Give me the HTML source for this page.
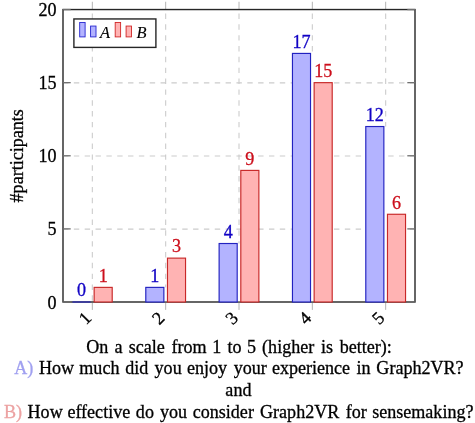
<!DOCTYPE html><html><head><meta charset="utf-8"><style>html,body{margin:0;padding:0;background:#fff;}svg{display:block;will-change:transform;}text{font-family:"Liberation Serif",serif;}</style></head><body>
<svg width="475" height="423" viewBox="0 0 475 423">
<line x1="63.0" y1="229.09" x2="415.0" y2="229.09" stroke="#cccccc" stroke-width="1.1" fill="none" stroke-dasharray="5.42 5.42"/>
<line x1="63.0" y1="155.97" x2="415.0" y2="155.97" stroke="#cccccc" stroke-width="1.1" fill="none" stroke-dasharray="5.42 5.42"/>
<line x1="63.0" y1="82.86" x2="415.0" y2="82.86" stroke="#cccccc" stroke-width="1.1" fill="none" stroke-dasharray="5.42 5.42"/>
<line x1="92.33" y1="9.55" x2="92.33" y2="302.00" stroke="#cccccc" stroke-width="1.1" fill="none" stroke-dasharray="5.42 5.42" stroke-dashoffset="6.89"/>
<line x1="92.33" y1="1.75" x2="92.33" y2="9.55" stroke="#b4b4b4" stroke-width="1.0"/>
<line x1="92.33" y1="302.80" x2="92.33" y2="309.90" stroke="#b4b4b4" stroke-width="1.0"/>
<line x1="165.67" y1="9.55" x2="165.67" y2="302.00" stroke="#cccccc" stroke-width="1.1" fill="none" stroke-dasharray="5.42 5.42" stroke-dashoffset="6.89"/>
<line x1="165.67" y1="1.75" x2="165.67" y2="9.55" stroke="#b4b4b4" stroke-width="1.0"/>
<line x1="165.67" y1="302.80" x2="165.67" y2="309.90" stroke="#b4b4b4" stroke-width="1.0"/>
<line x1="239.00" y1="9.55" x2="239.00" y2="302.00" stroke="#cccccc" stroke-width="1.1" fill="none" stroke-dasharray="5.42 5.42" stroke-dashoffset="6.89"/>
<line x1="239.00" y1="1.75" x2="239.00" y2="9.55" stroke="#b4b4b4" stroke-width="1.0"/>
<line x1="239.00" y1="302.80" x2="239.00" y2="309.90" stroke="#b4b4b4" stroke-width="1.0"/>
<line x1="312.33" y1="9.55" x2="312.33" y2="302.00" stroke="#cccccc" stroke-width="1.1" fill="none" stroke-dasharray="5.42 5.42" stroke-dashoffset="6.89"/>
<line x1="312.33" y1="1.75" x2="312.33" y2="9.55" stroke="#b4b4b4" stroke-width="1.0"/>
<line x1="312.33" y1="302.80" x2="312.33" y2="309.90" stroke="#b4b4b4" stroke-width="1.0"/>
<line x1="385.67" y1="9.55" x2="385.67" y2="302.00" stroke="#cccccc" stroke-width="1.1" fill="none" stroke-dasharray="5.42 5.42" stroke-dashoffset="6.89"/>
<line x1="385.67" y1="1.75" x2="385.67" y2="9.55" stroke="#b4b4b4" stroke-width="1.0"/>
<line x1="385.67" y1="302.80" x2="385.67" y2="309.90" stroke="#b4b4b4" stroke-width="1.0"/>
<rect x="63.0" y="9.55" width="352.0" height="292.45" fill="none" stroke="#262626" stroke-width="1.4"/>
<line x1="63.0" y1="302.00" x2="70.70" y2="302.00" stroke="#707070" stroke-width="1.3"/>
<line x1="407.30" y1="302.00" x2="415.0" y2="302.00" stroke="#707070" stroke-width="1.3"/>
<text x="56.6" y="308.50" font-size="18.07" text-anchor="end" fill="#000" stroke="#000" stroke-width="0.3">0</text>
<line x1="63.0" y1="228.89" x2="70.70" y2="228.89" stroke="#707070" stroke-width="1.3"/>
<line x1="407.30" y1="228.89" x2="415.0" y2="228.89" stroke="#707070" stroke-width="1.3"/>
<text x="56.6" y="235.39" font-size="18.07" text-anchor="end" fill="#000" stroke="#000" stroke-width="0.3">5</text>
<line x1="63.0" y1="155.78" x2="70.70" y2="155.78" stroke="#707070" stroke-width="1.3"/>
<line x1="407.30" y1="155.78" x2="415.0" y2="155.78" stroke="#707070" stroke-width="1.3"/>
<text x="56.6" y="162.28" font-size="18.07" text-anchor="end" fill="#000" stroke="#000" stroke-width="0.3">10</text>
<line x1="63.0" y1="82.66" x2="70.70" y2="82.66" stroke="#707070" stroke-width="1.3"/>
<line x1="407.30" y1="82.66" x2="415.0" y2="82.66" stroke="#707070" stroke-width="1.3"/>
<text x="56.6" y="89.16" font-size="18.07" text-anchor="end" fill="#000" stroke="#000" stroke-width="0.3">15</text>
<line x1="63.0" y1="9.55" x2="70.70" y2="9.55" stroke="#707070" stroke-width="1.3"/>
<line x1="407.30" y1="9.55" x2="415.0" y2="9.55" stroke="#707070" stroke-width="1.3"/>
<text x="56.6" y="16.05" font-size="18.07" text-anchor="end" fill="#000" stroke="#000" stroke-width="0.3">20</text>
<line x1="72.46" y1="302.0" x2="90.53" y2="302.0" stroke="#2222c0" stroke-width="1.15"/>
<text x="81.49" y="296.30" font-size="18.07" text-anchor="middle" fill="#1000c4" stroke="#1000c4" stroke-width="0.3">0</text>
<rect x="94.14" y="287.38" width="18.07" height="14.62" fill="#ffb3b3" stroke="#c82828" stroke-width="1.15"/>
<text x="103.18" y="281.68" font-size="18.07" text-anchor="middle" fill="#cc0f1c" stroke="#cc0f1c" stroke-width="0.3">1</text>
<rect x="163.86" y="287.38" width="3.61" height="13.82" fill="#fff"/>
<rect x="145.79" y="287.38" width="18.07" height="14.62" fill="#b3b3ff" stroke="#2222c0" stroke-width="1.15"/>
<text x="154.82" y="281.68" font-size="18.07" text-anchor="middle" fill="#1000c4" stroke="#1000c4" stroke-width="0.3">1</text>
<rect x="167.47" y="258.13" width="18.07" height="43.87" fill="#ffb3b3" stroke="#c82828" stroke-width="1.15"/>
<text x="176.51" y="252.43" font-size="18.07" text-anchor="middle" fill="#cc0f1c" stroke="#cc0f1c" stroke-width="0.3">3</text>
<rect x="237.19" y="243.51" width="3.61" height="57.69" fill="#fff"/>
<rect x="219.12" y="243.51" width="18.07" height="58.49" fill="#b3b3ff" stroke="#2222c0" stroke-width="1.15"/>
<text x="228.16" y="237.81" font-size="18.07" text-anchor="middle" fill="#1000c4" stroke="#1000c4" stroke-width="0.3">4</text>
<rect x="240.81" y="170.40" width="18.07" height="131.60" fill="#ffb3b3" stroke="#c82828" stroke-width="1.15"/>
<text x="249.84" y="164.70" font-size="18.07" text-anchor="middle" fill="#cc0f1c" stroke="#cc0f1c" stroke-width="0.3">9</text>
<rect x="310.53" y="53.42" width="3.61" height="247.78" fill="#fff"/>
<rect x="292.46" y="53.42" width="18.07" height="248.58" fill="#b3b3ff" stroke="#2222c0" stroke-width="1.15"/>
<text x="301.49" y="47.72" font-size="18.07" text-anchor="middle" fill="#1000c4" stroke="#1000c4" stroke-width="0.3">17</text>
<rect x="314.14" y="82.66" width="18.07" height="219.34" fill="#ffb3b3" stroke="#c82828" stroke-width="1.15"/>
<text x="323.18" y="76.96" font-size="18.07" text-anchor="middle" fill="#cc0f1c" stroke="#cc0f1c" stroke-width="0.3">15</text>
<rect x="383.86" y="126.53" width="3.61" height="174.67" fill="#fff"/>
<rect x="365.79" y="126.53" width="18.07" height="175.47" fill="#b3b3ff" stroke="#2222c0" stroke-width="1.15"/>
<text x="374.82" y="120.83" font-size="18.07" text-anchor="middle" fill="#1000c4" stroke="#1000c4" stroke-width="0.3">12</text>
<rect x="387.47" y="214.27" width="18.07" height="87.73" fill="#ffb3b3" stroke="#c82828" stroke-width="1.15"/>
<text x="396.51" y="208.57" font-size="18.07" text-anchor="middle" fill="#cc0f1c" stroke="#cc0f1c" stroke-width="0.3">6</text>
<text transform="translate(23,155.78) rotate(-90)" font-size="18.07" text-anchor="middle" fill="#000" stroke="#000" stroke-width="0.3">#participants</text>
<text transform="translate(84.93,318.00) rotate(-45)" x="0" y="5.96" font-size="18.07" text-anchor="middle" fill="#000" stroke="#000" stroke-width="0.3">1</text>
<text transform="translate(158.27,318.00) rotate(-45)" x="0" y="5.96" font-size="18.07" text-anchor="middle" fill="#000" stroke="#000" stroke-width="0.3">2</text>
<text transform="translate(231.60,318.00) rotate(-45)" x="0" y="5.96" font-size="18.07" text-anchor="middle" fill="#000" stroke="#000" stroke-width="0.3">3</text>
<text transform="translate(304.93,318.00) rotate(-45)" x="0" y="5.96" font-size="18.07" text-anchor="middle" fill="#000" stroke="#000" stroke-width="0.3">4</text>
<text transform="translate(378.27,318.00) rotate(-45)" x="0" y="5.96" font-size="18.07" text-anchor="middle" fill="#000" stroke="#000" stroke-width="0.3">5</text>
<rect x="73.9" y="18.95" width="82.0" height="28.45" fill="#fff" stroke="#262626" stroke-width="1.4"/>
<rect x="79.69" y="22.44" width="5.42" height="14.46" fill="#b3b3ff" stroke="#2626d0" stroke-width="0.9"/>
<rect x="90.59" y="26.06" width="5.42" height="10.84" fill="#b3b3ff" stroke="#2626d0" stroke-width="0.9"/>
<rect x="115.19" y="22.44" width="5.42" height="14.46" fill="#ffb3b3" stroke="#d02626" stroke-width="0.9"/>
<rect x="126.09" y="26.06" width="5.42" height="10.84" fill="#ffb3b3" stroke="#d02626" stroke-width="0.9"/>
<text x="99.9" y="37.9" font-size="16.4" font-style="italic" fill="#000" stroke="#000" stroke-width="0.12">A</text>
<text x="136.4" y="37.9" font-size="16.4" font-style="italic" fill="#000" stroke="#000" stroke-width="0.12">B</text>
<text x="86.26" y="352.7" font-size="18.07" fill="#000" stroke="#000" stroke-width="0.3">On</text>
<text x="114.56" y="352.7" font-size="18.07" fill="#000" stroke="#000" stroke-width="0.3">a</text>
<text x="128.66" y="352.7" font-size="18.07" fill="#000" stroke="#000" stroke-width="0.3">scale</text>
<text x="171.44" y="352.7" font-size="18.07" fill="#000" stroke="#000" stroke-width="0.3">from</text>
<text x="212.31" y="352.7" font-size="18.07" fill="#000" stroke="#000" stroke-width="0.3">1</text>
<text x="227.42" y="352.7" font-size="18.07" fill="#000" stroke="#000" stroke-width="0.3">to</text>
<text x="246.95" y="352.7" font-size="18.07" fill="#000" stroke="#000" stroke-width="0.3">5</text>
<text x="262.11" y="352.7" font-size="18.07" fill="#000" stroke="#000" stroke-width="0.3">(higher</text>
<text x="320.92" y="352.7" font-size="18.07" fill="#000" stroke="#000" stroke-width="0.3">is</text>
<text x="339.70" y="352.7" font-size="18.07" fill="#000" stroke="#000" stroke-width="0.3">better):</text>
<text x="14.22" y="374.2" font-size="18.07" fill="#a0a0f0" stroke="#a0a0f0" stroke-width="0.3">A)</text>
<text x="38.98" y="374.2" font-size="18.07" fill="#000" stroke="#000" stroke-width="0.3">How</text>
<text x="79.32" y="374.2" font-size="18.07" fill="#000" stroke="#000" stroke-width="0.3">much</text>
<text x="125.15" y="374.2" font-size="18.07" fill="#000" stroke="#000" stroke-width="0.3">did</text>
<text x="154.58" y="374.2" font-size="18.07" fill="#000" stroke="#000" stroke-width="0.3">you</text>
<text x="186.89" y="374.2" font-size="18.07" fill="#000" stroke="#000" stroke-width="0.3">enjoy</text>
<text x="233.68" y="374.2" font-size="18.07" fill="#000" stroke="#000" stroke-width="0.3">your</text>
<text x="271.89" y="374.2" font-size="18.07" fill="#000" stroke="#000" stroke-width="0.3">experience</text>
<text x="356.52" y="374.2" font-size="18.07" fill="#000" stroke="#000" stroke-width="0.3">in</text>
<text x="376.36" y="374.2" font-size="18.07" fill="#000" stroke="#000" stroke-width="0.3">Graph2VR?</text>
<text x="225.36" y="395.6" font-size="18.07" fill="#000" stroke="#000" stroke-width="0.3">and</text>
<text x="3.88" y="418.2" font-size="18.07" fill="#eca2a2" stroke="#eca2a2" stroke-width="0.3">B)</text>
<text x="27.58" y="418.2" font-size="18.07" fill="#000" stroke="#000" stroke-width="0.3">How</text>
<text x="67.39" y="418.2" font-size="18.07" fill="#000" stroke="#000" stroke-width="0.3">effective</text>
<text x="135.85" y="418.2" font-size="18.07" fill="#000" stroke="#000" stroke-width="0.3">do</text>
<text x="159.98" y="418.2" font-size="18.07" fill="#000" stroke="#000" stroke-width="0.3">you</text>
<text x="192.71" y="418.2" font-size="18.07" fill="#000" stroke="#000" stroke-width="0.3">consider</text>
<text x="260.06" y="418.2" font-size="18.07" fill="#000" stroke="#000" stroke-width="0.3">Graph2VR</text>
<text x="345.74" y="418.2" font-size="18.07" fill="#000" stroke="#000" stroke-width="0.3">for</text>
<text x="372.16" y="418.2" font-size="18.07" fill="#000" stroke="#000" stroke-width="0.3">sensemaking?</text>
</svg></body></html>
